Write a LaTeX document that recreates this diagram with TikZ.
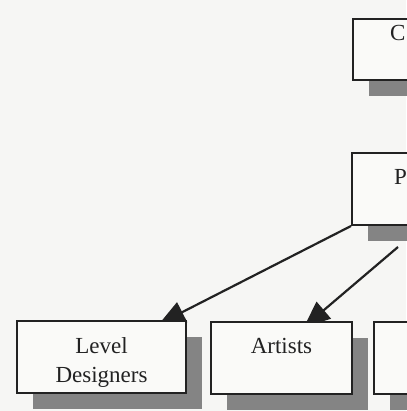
\documentclass[tikz,border=0pt]{standalone}
\usepackage{fontspec}
\setmainfont{Liberation Serif}
\usetikzlibrary{arrows.meta}

\definecolor{paper}{RGB}{246,246,244}
\definecolor{ink}{RGB}{34,34,34}
\definecolor{shade}{RGB}{132,132,132}
\definecolor{boxfill}{RGB}{250,250,248}

\pgfdeclarelayer{paperlayer}
\pgfdeclarelayer{links}
\pgfsetlayers{paperlayer,links,main}

\begin{document}
\begin{tikzpicture}[x=1pt, y=-1pt,
  orgbox/.style={rectangle, draw=ink, line width=2pt, fill=boxfill,
    inner sep=0pt, anchor=north west,
    preaction={fill=shade, draw=none,
      transform canvas={xshift=16pt, yshift=-16pt}}},
  caption/.style={font=\fontsize{23}{29}\selectfont, text=ink,
    inner sep=0pt, align=center},
  link/.style={draw=ink, line width=2.2pt,
    -{Triangle[length=26pt, width=22pt]}}]

  \begin{pgfonlayer}{paperlayer}
    \fill[paper] (0,0) rectangle (406,411);
  \end{pgfonlayer}
  \useasboundingbox (0,0) rectangle (406,411);

  % boxes of the chart
  \node[orgbox, minimum width=140pt, minimum height=61pt] (cbox) at (352,18) {};
  \node[orgbox, minimum width=140pt, minimum height=72pt] (pbox) at (351,152) {};
  \node[orgbox, minimum width=169pt, minimum height=72pt] (ld) at (16,320) {};
  \node[orgbox, minimum width=141pt, minimum height=72pt] (ar) at (210,321) {};
  \node[orgbox, minimum width=140pt, minimum height=72pt] (tb) at (373,321) {};

  % captions
  \node[caption, anchor=base west] (ctext) at ([xshift=38pt, yshift=-23pt]cbox.north west) {C};
  \node[caption, anchor=base west] (ptext) at ([xshift=43pt, yshift=-33pt]pbox.north west) {P};
  \node[caption, anchor=north] (ldtext) at ([yshift=-17.5pt]ld.north) {Level\\Designers};
  \node[caption, anchor=base] (artext) at ([yshift=-32pt]ar.north) {Artists};

  % reporting lines, drawn beneath the boxes
  \coordinate (pfoot) at (398,247);
  \begin{pgfonlayer}{links}
    \draw[link] (pbox.south west) -- ([xshift=57.5pt, yshift=-4pt]ld.north);
    \draw[link] (pfoot) -- ([xshift=22.5pt, yshift=-6pt]ar.north);
  \end{pgfonlayer}
\end{tikzpicture}
\end{document}
